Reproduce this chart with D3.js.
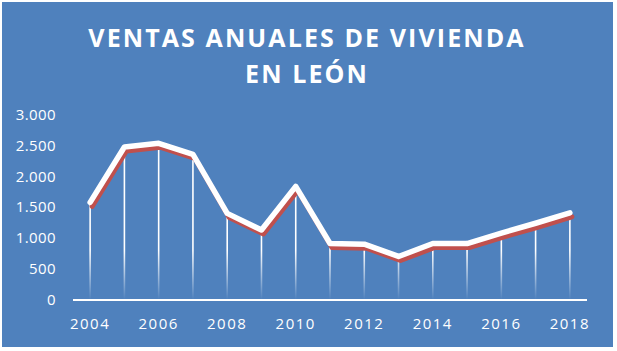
<!DOCTYPE html>
<html>
<head>
<meta charset="utf-8">
<script src="https://cdn.jsdelivr.net/npm/d3@7"></script>
<style>
body { margin: 0; background: #fff; }
</style>
</head>
<body>
<div id="chart"></div>
<script>
// datos
var years = [2004, 2005, 2006, 2007, 2008, 2009, 2010, 2011, 2012, 2013, 2014, 2015, 2016, 2017, 2018];
var ventas = [1580, 2480, 2540, 2360, 1400, 1130, 1840, 910, 900, 700, 910, 910, 1080, 1240, 1410];
var yTicks = [0, 500, 1000, 1500, 2000, 2500, 3000];
var xLabels = [2004, 2006, 2008, 2010, 2012, 2014, 2016, 2018];
var titulo = ['VENTAS ANUALES DE VIVIENDA', 'EN LEÓN'];

var width = 617, height = 351;
var svg = d3.select('#chart').append('svg')
    .attr('width', width)
    .attr('height', height);

svg.append('rect')
    .attr('x', 2).attr('y', 2)
    .attr('width', 611).attr('height', 345)
    .attr('fill', '#4f81bd');

// titulo
svg.selectAll('.titulo')
    .data(titulo)
    .enter().append('text')
    .attr('x', 307)
    .attr('y', (d, i) => 47 + i * 36)
    .attr('text-anchor', 'middle')
    .style('font-family', 'Open Sans')
    .style('font-weight', 'bold')
    .style('font-size', '25px')
    .style('letter-spacing', '2.1px')
    .attr('fill', '#fff')
    .text(d => d);

const xScale = d3.scaleBand()
    .domain(years)
    .range([73, 587]);

const yScale = d3.scaleLinear()
    .domain([0, 3000])
    .range([299.5, 115]);

const cx = d => xScale(d) + xScale.bandwidth() / 2;

// gradiente de las lineas verticales
var defs = svg.append('defs');
var grad = defs.append('linearGradient')
    .attr('id', 'drop')
    .attr('gradientUnits', 'userSpaceOnUse')
    .attr('x1', 0).attr('y1', yScale(800))
    .attr('x2', 0).attr('y2', yScale(0));
grad.append('stop').attr('offset', 0).attr('stop-color', '#fff').attr('stop-opacity', 1);
grad.append('stop').attr('offset', 1).attr('stop-color', '#fff').attr('stop-opacity', 0);

// eje y
svg.selectAll('.ytick')
    .data(yTicks)
    .enter().append('text')
    .attr('x', 56)
    .attr('y', d => yScale(d) + 5)
    .attr('text-anchor', 'end')
    .style('font-family', 'Open Sans')
    .style('font-size', '15px')
    .style('letter-spacing', '0.4px')
    .attr('fill', '#fff')
    .text(d => d3.format(',')(d).replace(',', '.'));

// lineas de caida
svg.selectAll('.drop')
    .data(years)
    .enter().append('line')
    .attr('x1', d => cx(d))
    .attr('x2', d => cx(d))
    .attr('y1', (d, i) => yScale(ventas[i]))
    .attr('y2', yScale(0))
    .attr('stroke', 'url(#drop)')
    .attr('stroke-width', 1.6);

// eje x
svg.append('line')
    .attr('x1', 73).attr('x2', 587)
    .attr('y1', 300).attr('y2', 300)
    .attr('stroke', '#fff')
    .attr('stroke-width', 2);

svg.selectAll('.xtick')
    .data(xLabels)
    .enter().append('text')
    .attr('x', d => cx(d))
    .attr('y', 329)
    .attr('text-anchor', 'middle')
    .style('font-family', 'Open Sans')
    .style('font-size', '15px')
    .style('letter-spacing', '1.5px')
    .attr('fill', '#fff')
    .text(d => d);

const pathLine = d3.line()
    .x((d, i) => cx(years[i]))
    .y(d => yScale(d));

// sombra roja
svg.append('path')
    .attr('d', pathLine(ventas))
    .attr('fill', 'none')
    .attr('stroke', '#c0504d')
    .attr('stroke-width', 5)
    .attr('stroke-linejoin', 'round')
    .attr('stroke-linecap', 'round')
    .attr('transform', 'translate(2,4)');

svg.append('path')
    .attr('d', pathLine(ventas))
    .attr('fill', 'none')
    .attr('stroke', '#fff')
    .attr('stroke-width', 5.5)
    .attr('stroke-linejoin', 'round')
    .attr('stroke-linecap', 'round');
</script>
</body>
</html>
